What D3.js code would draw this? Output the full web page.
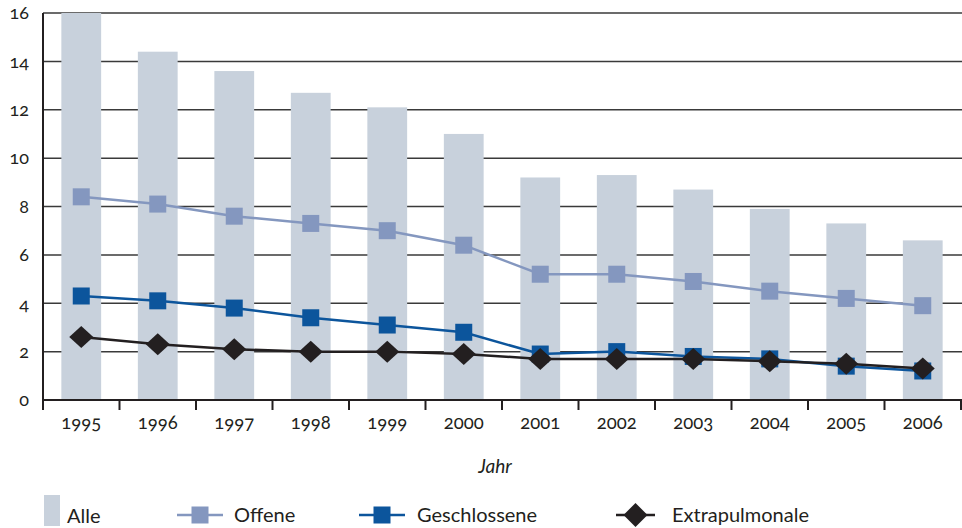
<!DOCTYPE html>
<html><head><meta charset="utf-8">
<script src="https://cdn.jsdelivr.net/npm/d3@7"></script>
<style>
body{margin:0;background:#fff;}
svg text{font-family:Lato,"Open Sans",sans-serif;font-variant-numeric:oldstyle-nums;font-feature-settings:"onum" 1;fill:#231f20;}
</style></head><body>
<svg id="c" width="962" height="528"></svg>
<script>
const years = ["1995","1996","1997","1998","1999","2000","2001","2002","2003","2004","2005","2006"];
const alle = [16.0,14.4,13.6,12.7,12.1,11.0,9.2,9.3,8.7,7.9,7.3,6.6];
const offene = [8.4,8.1,7.6,7.3,7.0,6.4,5.2,5.2,4.9,4.5,4.2,3.9];
const geschlossene = [4.3,4.1,3.8,3.4,3.1,2.8,1.9,2.0,1.8,1.7,1.4,1.2];
const extrapulmonale = [2.6,2.3,2.1,2.0,2.0,1.9,1.7,1.7,1.7,1.6,1.5,1.3];
const yTicks = [0,2,4,6,8,10,12,14,16];

const C = {bar:"#c8d1dc", off:"#8497bf", ges:"#0c559c", ext:"#231f20", grid:"#3a3a3a"};
const svg = d3.select("#c");
const m = {l:43, r:961, t:13, b:400};
const x = d3.scaleBand().domain(years).range([m.l, m.r]).paddingInner(0).paddingOuter(0);
const y = d3.scaleLinear().domain([0,16]).range([m.b, m.t]);
const bw = x.bandwidth()*0.52;
const cx = d => x(d)+x.bandwidth()/2;

// gridlines
svg.append("g").selectAll("line").data(yTicks.filter(t=>t>0)).join("line")
  .attr("x1", m.l).attr("x2", 962).attr("y1", d=>y(d)).attr("y2", d=>y(d))
  .attr("stroke", C.grid).attr("stroke-width", 1.5);

// bars
svg.append("g").selectAll("rect").data(alle).join("rect")
  .attr("x", (d,i)=>cx(years[i])-bw/2).attr("width", bw)
  .attr("y", d=>y(d)).attr("height", d=>y(0)-y(d)).attr("fill", C.bar);

// axes
const yAx = svg.append("g").attr("transform",`translate(${m.l},0)`)
  .call(d3.axisLeft(y).tickValues(yTicks).tickSize(0).tickPadding(14).tickFormat(d3.format("d")));
yAx.select(".domain").remove();
yAx.selectAll("text").attr("font-size",18).attr("fill","#231f20");
svg.append("line").attr("x1",m.l).attr("x2",m.l).attr("y1",m.t).attr("y2",409).attr("stroke","#231f20").attr("stroke-width",2);

const xAx = svg.append("g").attr("transform",`translate(0,${m.b})`)
  .call(d3.axisBottom(x).tickSize(0).tickPadding(16));
xAx.select(".domain").remove();
xAx.selectAll("text").attr("font-size",18.5).attr("fill","#231f20");
svg.append("line").attr("x1",m.l).attr("x2",962).attr("y1",m.b).attr("y2",m.b).attr("stroke","#231f20").attr("stroke-width",2);
svg.append("g").selectAll("line").data(d3.range(years.length+1)).join("line")
  .attr("x1", i=>m.l + i*x.bandwidth()).attr("x2", i=>m.l + i*x.bandwidth())
  .attr("y1", m.b).attr("y2", 410).attr("stroke","#231f20").attr("stroke-width",2);

svg.append("text").attr("x",495).attr("y",473).attr("text-anchor","middle")
  .attr("font-size",19).attr("font-style","italic").text("Jahr");

// lines
const line = d3.line().x((d,i)=>cx(years[i])).y(d=>y(d));
function series(vals, color, shape){
  svg.append("path").datum(vals).attr("d", line).attr("fill","none")
    .attr("stroke", color).attr("stroke-width", 2.5);
  const g = svg.append("g");
  if(shape==="sq"){
    g.selectAll("rect").data(vals).join("rect")
      .attr("x",(d,i)=>cx(years[i])-8.5).attr("y",d=>y(d)-8.5)
      .attr("width",17).attr("height",17).attr("fill",color);
  } else {
    g.selectAll("path").data(vals).join("path")
      .attr("d",(d,i)=>{const X=cx(years[i]),Y=y(d),r=12,h=11;return `M${X},${Y-h}L${X+r},${Y}L${X},${Y+h}L${X-r},${Y}Z`;})
      .attr("fill",color);
  }
}
series(offene, C.off, "sq");
series(geschlossene, C.ges, "sq");
series(extrapulmonale, C.ext, "dia");

// legend
const lg = svg.append("g");
const ly = 515;
lg.append("rect").attr("x",44).attr("y",495).attr("width",16).attr("height",31).attr("fill",C.bar);
lg.append("text").attr("x",67).attr("y",523).attr("font-size",20).text("Alle");
function legItem(x0, x1, tx, color, shape, label){
  lg.append("line").attr("x1",x0).attr("x2",x1).attr("y1",ly).attr("y2",ly).attr("stroke",color).attr("stroke-width",2.5);
  const mx = (x0+x1)/2;
  if(shape==="sq") lg.append("rect").attr("x",mx-8.5).attr("y",ly-8.5).attr("width",17).attr("height",17).attr("fill",color);
  else lg.append("path").attr("d",`M${mx},${ly-12}L${mx+12},${ly}L${mx},${ly+12}L${mx-12},${ly}Z`).attr("fill",color);
  lg.append("text").attr("x",tx).attr("y",ly+7).attr("font-size",20).text(label);
}
legItem(177, 223, 234, C.off, "sq", "Offene");
legItem(359, 405, 417, C.ges, "sq", "Geschlossene");
legItem(616, 655, 672, C.ext, "dia", "Extrapulmonale");
</script></body></html>
